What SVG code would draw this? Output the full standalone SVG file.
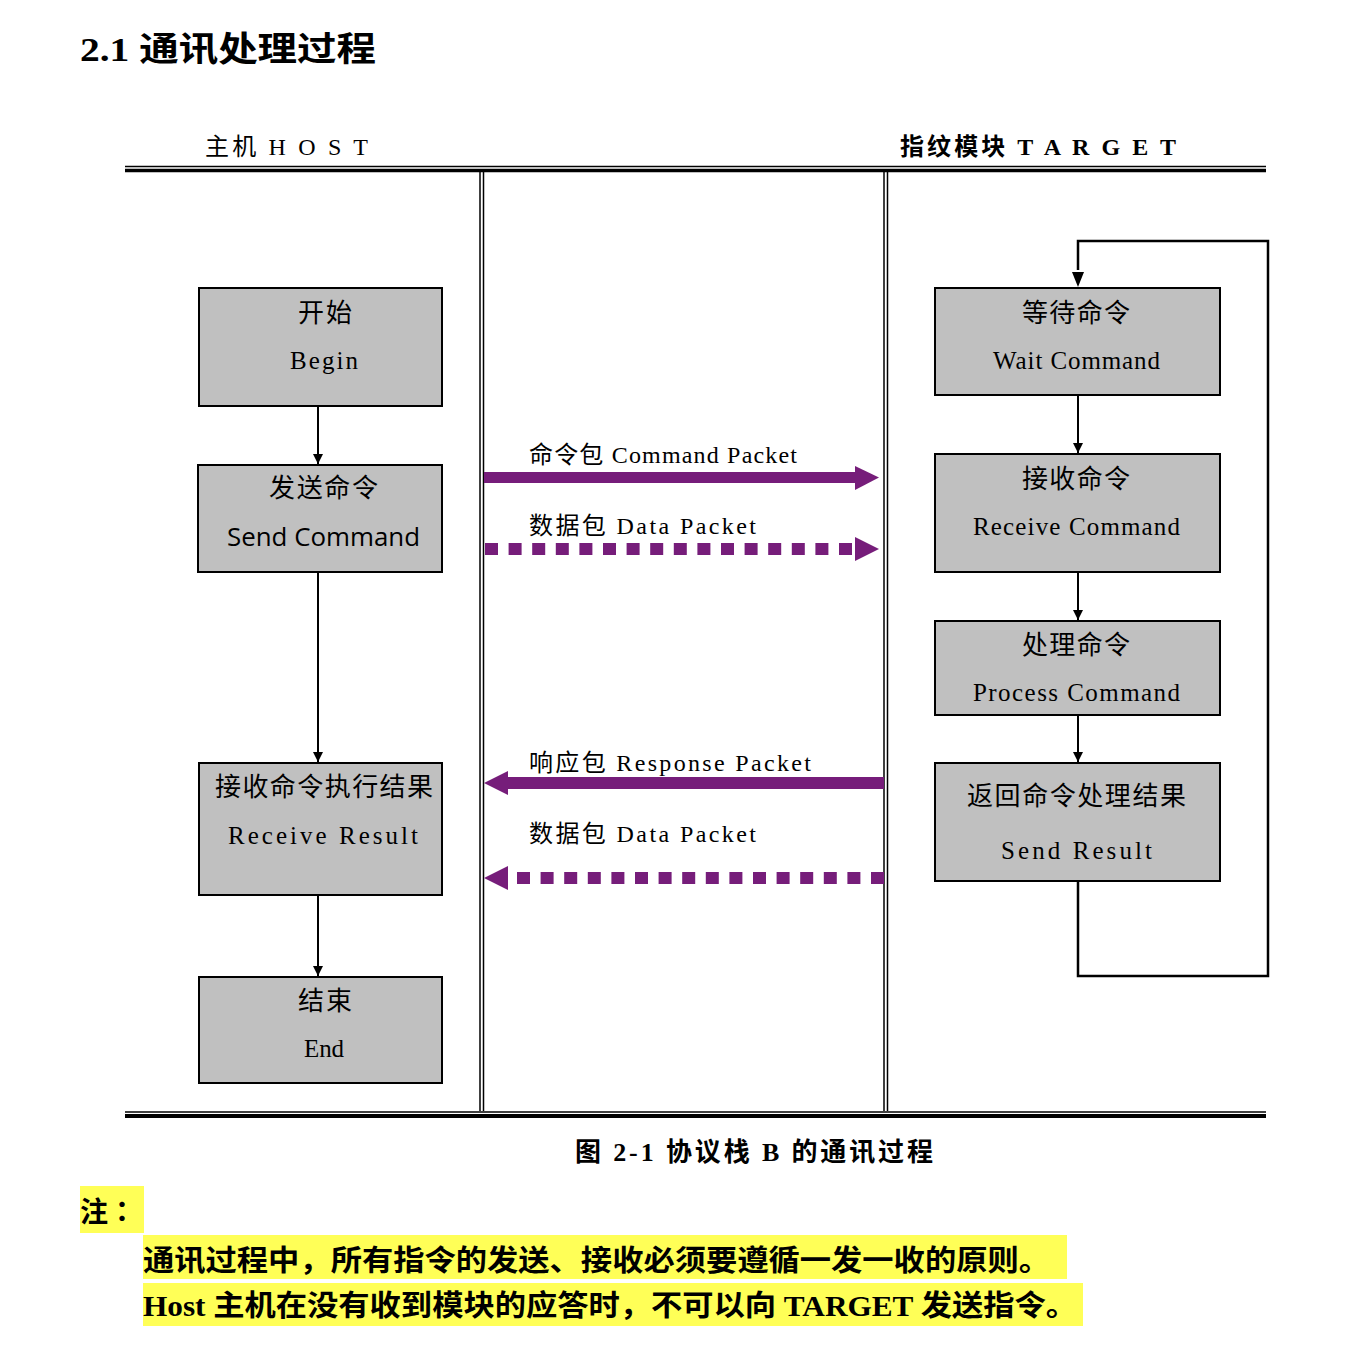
<svg xmlns="http://www.w3.org/2000/svg" width="1354" height="1351" viewBox="0 0 1354 1351">
<defs>
<style>
.t{font-family:'Liberation Serif','Noto Sans CJK SC',serif;fill:#000}
.c{font-family:'Noto Sans CJK SC',sans-serif;fill:#000}
.s{font-family:'Open Sans','Liberation Sans','Noto Sans CJK SC',sans-serif;fill:#000}
.box{fill:#c0c0c0;stroke:#000;stroke-width:2}
.ln{stroke:#000;fill:none}
.conn{stroke:#000;stroke-width:2;fill:none}
.pp{fill:#761d7a}
.dash{stroke:#761d7a;stroke-width:12;stroke-dasharray:13 10.6;fill:none}
</style>
<marker id="ah" viewBox="0 0 10 10" refX="10" refY="5" markerWidth="5" markerHeight="5" markerUnits="strokeWidth" orient="auto">
<path d="M0,0 L10,5 L0,10 Z" fill="#000"/>
</marker>
</defs>
<rect width="1354" height="1351" fill="#fff"/>

<text class="t" x="80" y="61" font-size="34" font-weight="bold" textLength="296" lengthAdjust="spacingAndGlyphs">2.1 通讯处理过程</text>

<g id="frame">
<line class="ln" x1="125" y1="166.5" x2="1266" y2="166.5" stroke-width="1.5"/>
<line class="ln" x1="125" y1="170.5" x2="1266" y2="170.5" stroke-width="3.5"/>
<line class="ln" x1="125" y1="1112" x2="1266" y2="1112" stroke-width="1.5"/>
<line class="ln" x1="125" y1="1116" x2="1266" y2="1116" stroke-width="4"/>
<line class="ln" x1="480" y1="172" x2="480" y2="1111" stroke-width="1.5"/>
<line class="ln" x1="483.5" y1="172" x2="483.5" y2="1111" stroke-width="1.5"/>
<line class="ln" x1="884" y1="172" x2="884" y2="1111" stroke-width="1.5"/>
<line class="ln" x1="887.5" y1="172" x2="887.5" y2="1111" stroke-width="1.5"/>
</g>

<text class="t" x="205" y="155" font-size="24" textLength="163" lengthAdjust="spacing">主机 H O S T</text>
<text class="t" x="900" y="155" font-size="24" font-weight="bold" textLength="276" lengthAdjust="spacing">指纹模块 T A R G E T</text>

<g id="begin">
<rect class="box" x="199" y="288" width="243" height="118"/>
<text class="t" x="298" y="322" font-size="26" textLength="54">开始</text>
<text class="t" x="290" y="369" font-size="25" textLength="68" lengthAdjust="spacing">Begin</text>
</g>
<g id="send-command">
<rect class="box" x="198" y="465" width="244" height="107"/>
<text class="t" x="269" y="497" font-size="26" textLength="109">发送命令</text>
<text class="s" x="227" y="546" font-size="26" textLength="193" lengthAdjust="spacingAndGlyphs">Send Command</text>
</g>
<g id="receive-result">
<rect class="box" x="199" y="763" width="243" height="132"/>
<text class="t" x="215" y="796" font-size="26" textLength="218">接收命令执行结果</text>
<text class="t" x="228" y="844" font-size="25" textLength="190" lengthAdjust="spacing">Receive Result</text>
</g>
<g id="end">
<rect class="box" x="199" y="977" width="243" height="106"/>
<text class="t" x="298" y="1010" font-size="26" textLength="54">结束</text>
<text class="t" x="304" y="1057" font-size="25" textLength="40" lengthAdjust="spacing">End</text>
</g>

<g id="wait-command">
<rect class="box" x="935" y="288" width="285" height="107"/>
<text class="t" x="1022" y="322" font-size="26" textLength="108">等待命令</text>
<text class="t" x="993" y="369" font-size="25" textLength="167" lengthAdjust="spacing">Wait Command</text>
</g>
<g id="receive-command">
<rect class="box" x="935" y="454" width="285" height="118"/>
<text class="t" x="1022" y="488" font-size="26" textLength="108">接收命令</text>
<text class="t" x="973" y="535" font-size="25" textLength="207" lengthAdjust="spacing">Receive Command</text>
</g>
<g id="process-command">
<rect class="box" x="935" y="621" width="285" height="94"/>
<text class="t" x="1022" y="654" font-size="26" textLength="108">处理命令</text>
<text class="t" x="973" y="701" font-size="25" textLength="207" lengthAdjust="spacing">Process Command</text>
</g>
<g id="send-result">
<rect class="box" x="935" y="763" width="285" height="118"/>
<text class="t" x="967" y="805" font-size="26" textLength="219">返回命令处理结果</text>
<text class="t" x="1001" y="859" font-size="25" textLength="151" lengthAdjust="spacing">Send Result</text>
</g>

<g id="connectors">
<line class="conn" x1="318" y1="407" x2="318" y2="464" marker-end="url(#ah)"/>
<line class="conn" x1="318" y1="573" x2="318" y2="762" marker-end="url(#ah)"/>
<line class="conn" x1="318" y1="896" x2="318" y2="976" marker-end="url(#ah)"/>
<line class="conn" x1="1078" y1="396" x2="1078" y2="453" marker-end="url(#ah)"/>
<line class="conn" x1="1078" y1="573" x2="1078" y2="620" marker-end="url(#ah)"/>
<line class="conn" x1="1078" y1="716" x2="1078" y2="762" marker-end="url(#ah)"/>
<path class="ln" stroke-width="2.5" d="M1078,882 V976 H1268 V241 H1078 V270"/>
<path d="M1072,272 L1084,272 L1078,287 Z" fill="#000"/>

<rect class="pp" x="484" y="472" width="373" height="11"/>
<path class="pp" d="M855,466 L879,477.5 L855,490 Z"/>
<line class="dash" x1="485" y1="549" x2="852" y2="549"/>
<path class="pp" d="M855,537 L879,549 L855,561 Z"/>

<rect class="pp" x="506" y="777" width="378" height="12"/>
<path class="pp" d="M508,771 L484,783 L508,795 Z"/>
<line class="dash" x1="884" y1="878" x2="512" y2="878"/>
<path class="pp" d="M508,866 L484,878 L508,890 Z"/>
</g>

<text class="t" x="529" y="463" font-size="24" textLength="268" lengthAdjust="spacing">命令包 Command Packet</text>
<text class="t" x="529" y="534" font-size="24" textLength="227" lengthAdjust="spacing">数据包 Data Packet</text>
<text class="t" x="529" y="771" font-size="24" textLength="282" lengthAdjust="spacing">响应包 Response Packet</text>
<text class="t" x="529" y="842" font-size="24" textLength="227" lengthAdjust="spacing">数据包 Data Packet</text>

<text class="t" x="575" y="1161" font-size="26" font-weight="bold" textLength="358" lengthAdjust="spacing">图 2-1 协议栈 B 的通讯过程</text>

<rect x="80" y="1186" width="64" height="47" fill="#ffff57"/>
<rect x="143" y="1235" width="924" height="44" fill="#ffff57"/>
<rect x="143" y="1283" width="940" height="43" fill="#ffff57"/>
<text class="c" x="80" y="1222" font-size="28" font-weight="bold">注<tspan font-family="'Noto Sans CJK JP',sans-serif">：</tspan></text>
<text class="t" x="143" y="1271" font-size="29" font-weight="bold" textLength="907" lengthAdjust="spacingAndGlyphs">通讯过程中，所有指令的发送、接收必须要遵循一发一收的原则。</text>
<text class="t" x="143" y="1316" font-size="29" font-weight="bold" textLength="934" lengthAdjust="spacingAndGlyphs">Host 主机在没有收到模块的应答时，不可以向 TARGET 发送指令。</text>
</svg>
